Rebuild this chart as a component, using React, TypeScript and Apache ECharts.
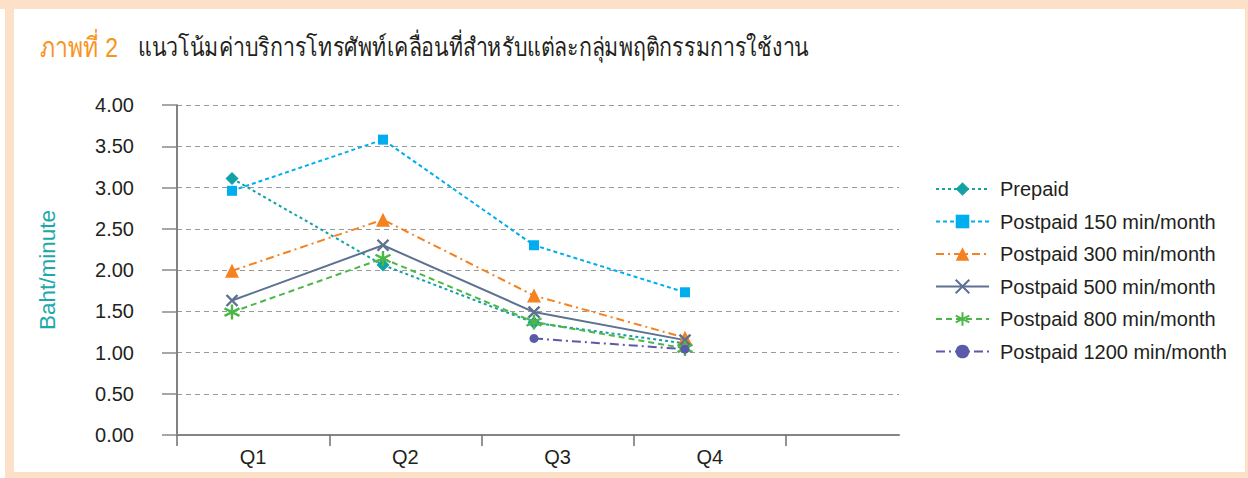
import React, { useEffect, useRef } from "react";
import * as echarts from "echarts";

const quarters = ["Q1", "Q2", "Q3", "Q4"];
const frameCats = ["", "", "", "", ""];
const yTicks = [0, 0.5, 1, 1.5, 2, 2.5, 3, 3.5, 4];

const seriesNames = [
  "Prepaid",
  "Postpaid 150 min/month",
  "Postpaid 300 min/month",
  "Postpaid 500 min/month",
  "Postpaid 800 min/month",
  "Postpaid 1200 min/month",
];
const prepaid = [3.11, 2.06, 1.36, 1.11];
const post150 = [2.96, 3.58, 2.3, 1.73];
const post300 = [1.99, 2.61, 1.69, 1.18];
const post500 = [1.63, 2.3, 1.49, 1.15];
const post800 = [1.49, 2.14, 1.37, 1.05];
const post1200: (number | string)[] = ["-", "-", 1.17, 1.04];

const titleLead = "ภาพที่ 2";
const titleText = "แนวโน้มค่าบริการโทรศัพท์เคลื่อนที่สำหรับแต่ละกลุ่มพฤติกรรมการใช้งาน";
const yName = "Baht/minute";

const CROSS = "path://M0,0L10,10M10,0L0,10";
const ASTER = "path://M5,0L5,10M0.67,2.5L9.33,7.5M0.67,7.5L9.33,2.5";

export default function App() {
  const ref = useRef<HTMLDivElement>(null);
  useEffect(() => {
    if (!ref.current) return;
    const chart = echarts.init(ref.current, null, { renderer: "svg" });
    const font = "Liberation Sans, Arial, sans-serif";
    const plotTop = 105;
    const plotH = 330;
    const mk = (
      name: string,
      data: (number | string)[],
      color: string,
      type: any,
      symbol: string,
      size: number,
      stroke?: boolean
    ) => ({
      name,
      type: "line",
      xAxisIndex: 2,
      yAxisIndex: 2,
      data,
      symbol,
      symbolSize: size,
      showSymbol: true,
      lineStyle: { color, width: 2, type },
      itemStyle: stroke
        ? { color, borderColor: color, borderWidth: 2.4 }
        : { color, borderWidth: 0 },
      emphasis: { disabled: true },
    });
    chart.setOption({
      animation: false,
      textStyle: { fontFamily: font },
      graphic: [
        { type: "rect", shape: { x: 0, y: 0, width: 1248, height: 9 }, style: { fill: "#fde0c8" } },
        { type: "rect", shape: { x: 5, y: 0, width: 9, height: 478 }, style: { fill: "#fde0c8" } },
        { type: "rect", shape: { x: 1245, y: 0, width: 3, height: 478 }, style: { fill: "#fde0c8" } },
        { type: "rect", shape: { x: 5, y: 472, width: 1243, height: 6 }, style: { fill: "#fde0c8" } },
        {
          type: "text",
          x: 40,
          y: 47,
          scaleY: 1.2,
          style: {
            text: titleLead,
            verticalAlign: "middle",
            fill: "#f7941d",
            fontSize: 23,
            fontFamily: font,
          },
        },
        {
          type: "text",
          x: 138,
          y: 47,
          scaleY: 1.2,
          style: {
            text: titleText,
            verticalAlign: "middle",
            fill: "#231f20",
            fontSize: 21.4,
            fontFamily: font,
          },
        },
      ],
      grid: [
        { left: 177, top: plotTop, width: 722, height: plotH },
        { left: 177, top: plotTop, width: 609, height: plotH },
        { left: 156.5, top: plotTop, width: 604, height: plotH },
      ],
      xAxis: [
        {
          gridIndex: 0,
          type: "category",
          data: frameCats,
          axisLine: { show: true, lineStyle: { color: "#848484", width: 2 } },
          axisTick: { show: false },
          axisLabel: { show: false },
          splitLine: { show: false },
        },
        {
          gridIndex: 1,
          type: "category",
          data: quarters,
          axisLine: { show: false },
          axisTick: { show: true, length: 11, lineStyle: { color: "#6d6e71", width: 1.5 } },
          axisLabel: { show: true, fontSize: 20, color: "#231f20", margin: 12, fontFamily: font },
          splitLine: { show: false },
        },
        {
          gridIndex: 2,
          type: "category",
          data: quarters,
          show: false,
        },
      ],
      yAxis: [
        {
          gridIndex: 0,
          type: "value",
          min: 0,
          max: 4,
          interval: 0.5,
          name: yName,
          nameLocation: "middle",
          nameGap: 118,
          nameRotate: 90,
          nameTextStyle: { color: "#1ba9ac", fontSize: 22.5, fontFamily: font },
          axisLine: { show: true, lineStyle: { color: "#58595b", width: 1.5 } },
          axisTick: { show: true, length: 15, lineStyle: { color: "#8a8a8a", width: 1.5 } },
          axisLabel: {
            fontSize: 20,
            color: "#231f20",
            margin: 43,
            fontFamily: font,
            formatter: (v: number) => (yTicks.indexOf(v) >= 0 ? v.toFixed(2) : ""),
          },
          splitLine: { show: true, lineStyle: { color: "#9a9a9a", type: [5, 4], width: 1.2 } },
        },
        { gridIndex: 1, type: "value", min: 0, max: 4, show: false, splitLine: { show: false } },
        { gridIndex: 2, type: "value", min: 0, max: 4, show: false, splitLine: { show: false } },
      ],
      legend: {
        orient: "vertical",
        left: 930,
        top: 174,
        itemWidth: 53,
        itemHeight: 17,
        itemGap: 12.5,
        data: seriesNames,
        textStyle: { fontSize: 20, color: "#231f20", lineHeight: 20, padding: [0, 0, 0, 6], fontFamily: font },
        selectedMode: false,
      },
      series: [
        mk(seriesNames[0], prepaid, "#12a1a4", [3, 3], "diamond", 13),
        mk(seriesNames[1], post150, "#00aeef", [4, 3], "rect", 10),
        mk(seriesNames[2], post300, "#f58220", [8, 4, 2, 4], "triangle", 14),
        mk(seriesNames[3], post500, "#5d7191", "solid", CROSS, 11, true),
        mk(seriesNames[4], post800, "#4cb748", [6, 4], ASTER, 15, true),
        mk(seriesNames[5], post1200, "#5b5aa8", [9, 4, 2, 4], "circle", 9),
      ],
    });
    return () => chart.dispose();
  }, []);
  return (
    <div
      ref={ref}
      style={{ position: "fixed", left: 0, top: 0, width: 1248, height: 478, background: "#fff" }}
    />
  );
}
